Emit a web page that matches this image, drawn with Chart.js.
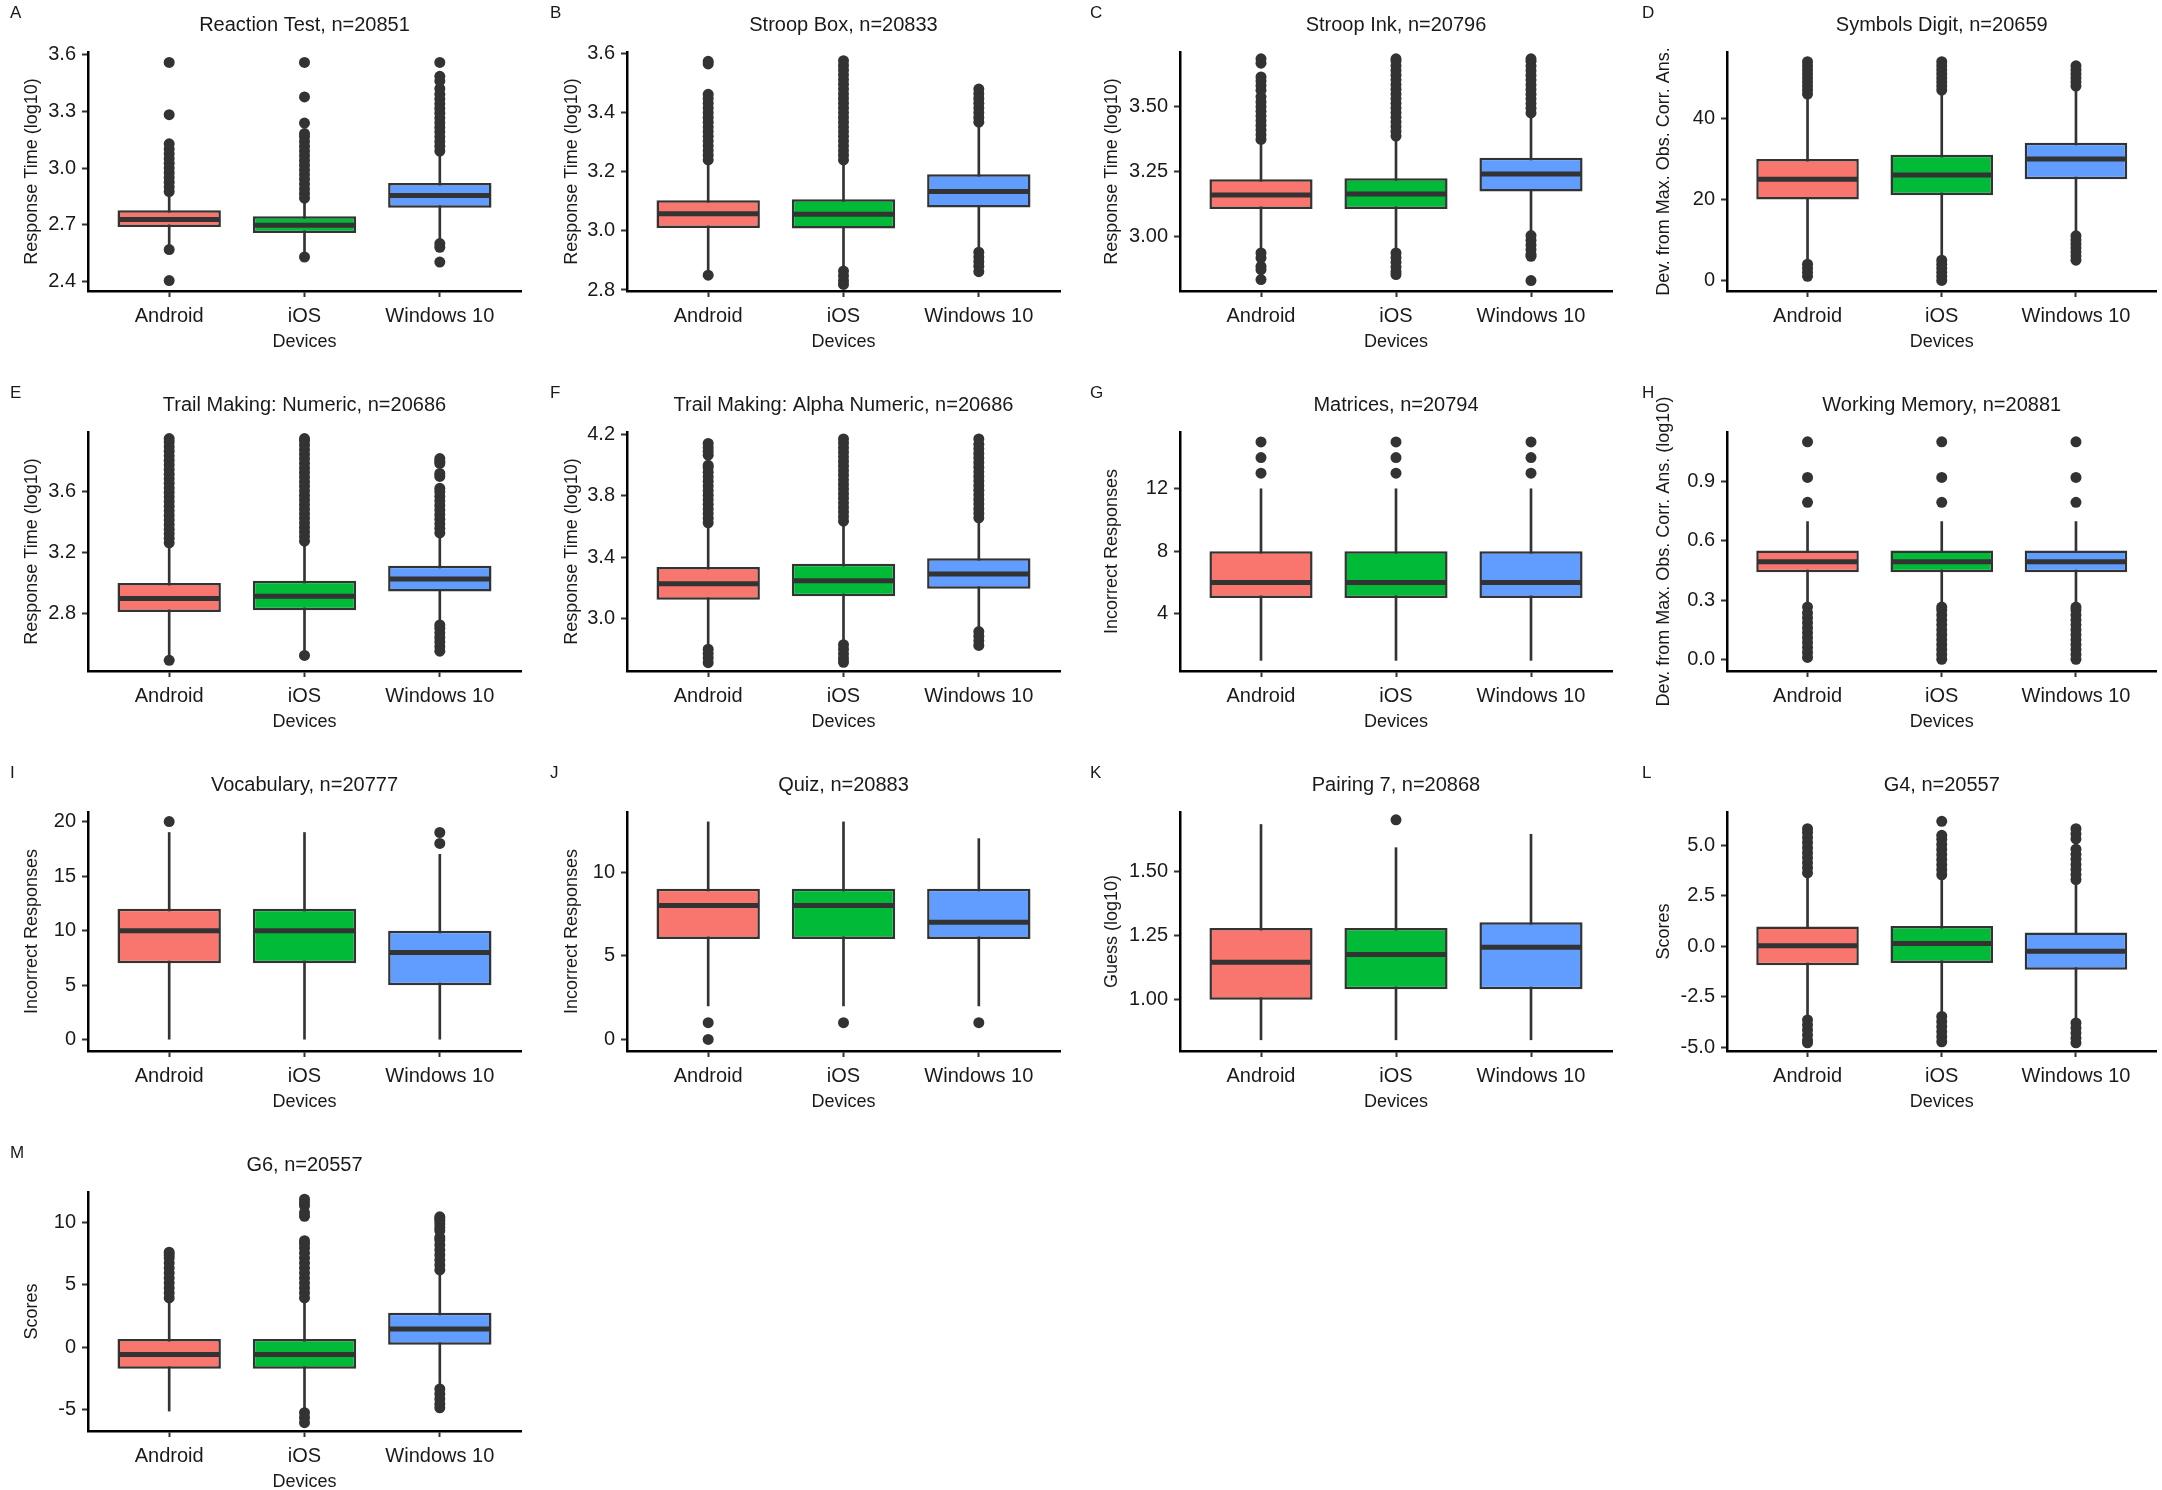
<!DOCTYPE html>
<html><head><meta charset="utf-8">
<script src="https://cdn.jsdelivr.net/npm/chart.js@4.4.1/dist/chart.umd.min.js"></script>
<style>
html,body{margin:0;padding:0;background:#fff;}
#wrap{position:relative;width:2162px;height:1490px;overflow:hidden;background:#fff;}
.panel{position:absolute;height:380px;}
.panel canvas{display:block;}
.tag{position:absolute;font:17px 'Liberation Sans',Arial,sans-serif;color:#1a1a1a;line-height:1;}
</style></head><body><div id="wrap"></div>
<script>
// ---------------- data ----------------
const devices = ['Android', 'iOS', 'Windows 10'];
const xTitle = 'Devices';
const panelLetters = ['A','B','C','D','E','F','G','H','I','J','K','L','M'];
const panelTitles = ['Reaction Test, n=20851','Stroop Box, n=20833','Stroop Ink, n=20796','Symbols Digit, n=20659',
  'Trail Making: Numeric, n=20686','Trail Making: Alpha Numeric, n=20686','Matrices, n=20794','Working Memory, n=20881',
  'Vocabulary, n=20777','Quiz, n=20883','Pairing 7, n=20868','G4, n=20557','G6, n=20557'];
const yTitles = ['Response Time (log10)','Response Time (log10)','Response Time (log10)','Dev. from Max. Obs. Corr. Ans.',
  'Response Time (log10)','Response Time (log10)','Incorrect Responses','Dev. from Max. Obs. Corr. Ans. (log10)',
  'Incorrect Responses','Incorrect Responses','Guess (log10)','Scores','Scores'];

// A Reaction Test
const A_yTicks = ['2.4','2.7','3.0','3.3','3.6'];
const A_yRange = [2.349, 3.614];
const A_low  = [2.590, 2.547, 2.617];
const A_q1   = [2.688, 2.656, 2.790];
const A_med  = [2.728, 2.697, 2.855];
const A_q3   = [2.776, 2.744, 2.921];
const A_high = [2.865, 2.830, 3.080];
const A_out  = [
  [2.404, 2.568, 2.875, 2.90, 2.925, 2.95, 2.975, 3.00, 3.025, 3.05, 3.075, 3.10, 3.128, 3.282, 3.559],
  [2.529, 2.84, 2.865, 2.89, 2.915, 2.94, 2.965, 2.99, 3.015, 3.04, 3.065, 3.09, 3.115, 3.14, 3.165, 3.182, 3.238, 3.376, 3.559],
  [2.502, 2.58, 2.60, 3.09, 3.115, 3.14, 3.165, 3.19, 3.215, 3.24, 3.265, 3.29, 3.315, 3.34, 3.365, 3.39, 3.42, 3.46, 3.485, 3.559]
];

// B Stroop Box
const B_yTicks = ['2.8','3.0','3.2','3.4','3.6'];
const B_yRange = [2.7966, 3.6054];
const B_low  = [2.862, 2.872, 2.935];
const B_q1   = [3.010, 3.008, 3.079];
const B_med  = [3.058, 3.056, 3.133];
const B_q3   = [3.104, 3.107, 3.192];
const B_high = [3.232, 3.232, 3.360];
const B_out  = [
  [2.850, 3.24, 3.256, 3.272, 3.288, 3.304, 3.32, 3.336, 3.352, 3.368, 3.384, 3.40, 3.416, 3.432, 3.448, 3.462, 3.565, 3.574],
  [2.819, 2.832, 2.848, 2.864, 3.24, 3.256, 3.272, 3.288, 3.304, 3.32, 3.336, 3.352, 3.368, 3.384, 3.40, 3.416, 3.432, 3.448, 3.464, 3.48, 3.496, 3.512, 3.528, 3.544, 3.56, 3.576],
  [2.862, 2.88, 2.896, 2.912, 2.928, 3.368, 3.384, 3.40, 3.416, 3.432, 3.448, 3.464, 3.48]
];

// C Stroop Ink
const C_yTicks = ['3.00','3.25','3.50'];
const C_yRange = [2.790, 3.708];
const C_low  = [2.945, 2.945, 3.008];
const C_q1   = [3.105, 3.105, 3.172];
const C_med  = [3.159, 3.163, 3.239];
const C_q3   = [3.219, 3.223, 3.302];
const C_high = [3.365, 3.378, 3.468];
const C_out  = [
  [2.834, 2.872, 2.885, 2.917, 2.936, 3.372, 3.39, 3.408, 3.426, 3.444, 3.462, 3.48, 3.498, 3.516, 3.536, 3.561, 3.579, 3.597, 3.612, 3.665, 3.682],
  [2.853, 2.864, 2.882, 2.90, 2.918, 2.936, 3.385, 3.403, 3.421, 3.439, 3.457, 3.475, 3.493, 3.511, 3.529, 3.547, 3.565, 3.583, 3.601, 3.619, 3.637, 3.655, 3.673, 3.682],
  [2.830, 2.923, 2.931, 2.949, 2.967, 2.985, 3.003, 3.474, 3.492, 3.51, 3.528, 3.546, 3.564, 3.582, 3.60, 3.618, 3.636, 3.654, 3.672, 3.682]
];

// D Symbols Digit
const D_yTicks = ['0','20','40'];
const D_yRange = [-2.62, 56.4];
const D_low  = [5, 6, 12];
const D_q1   = [20, 21, 25];
const D_med  = [25, 26, 30];
const D_q3   = [30, 31, 34];
const D_high = [45, 46, 47];
const D_out  = [
  [1, 2, 3, 4, 46, 47, 48, 49, 50, 51, 52, 53, 54],
  [0, 1, 2, 3, 4, 5, 47, 48, 49, 50, 51, 52, 53, 54],
  [5, 6, 7, 8, 9, 10, 11, 48, 49, 50, 51, 52, 53]
];

// E Trail Making: Numeric
const E_yTicks = ['2.8','3.2','3.6'];
const E_yRange = [2.426, 3.991];
const E_low  = [2.515, 2.548, 2.735];
const E_q1   = [2.813, 2.824, 2.946];
const E_med  = [2.900, 2.915, 3.028];
const E_q3   = [3.002, 3.017, 3.115];
const E_high = [3.255, 3.268, 3.322];
const E_out  = [
  [2.496, 3.265, 3.295, 3.325, 3.355, 3.385, 3.415, 3.445, 3.475, 3.505, 3.535, 3.565, 3.595, 3.625, 3.655, 3.685, 3.715, 3.745, 3.775, 3.805, 3.835, 3.865, 3.895, 3.925, 3.948],
  [2.528, 3.276, 3.306, 3.336, 3.366, 3.396, 3.426, 3.456, 3.486, 3.516, 3.546, 3.576, 3.606, 3.636, 3.666, 3.696, 3.726, 3.756, 3.786, 3.816, 3.846, 3.876, 3.906, 3.936, 3.948],
  [2.556, 2.586, 2.616, 2.646, 2.676, 2.706, 2.728, 3.33, 3.36, 3.39, 3.42, 3.45, 3.48, 3.51, 3.54, 3.57, 3.60, 3.622, 3.70, 3.72, 3.785, 3.80, 3.817]
];

// F Trail Making: Alpha Numeric
const F_yTicks = ['3.0','3.4','3.8','4.2'];
const F_yRange = [2.658, 4.217];
const F_low  = [2.822, 2.855, 2.925];
const F_q1   = [3.123, 3.145, 3.195];
const F_med  = [3.227, 3.247, 3.290];
const F_q3   = [3.336, 3.357, 3.394];
const F_high = [3.615, 3.625, 3.648];
const F_out  = [
  [2.712, 2.742, 2.772, 2.80, 3.625, 3.655, 3.685, 3.715, 3.745, 3.775, 3.805, 3.835, 3.865, 3.895, 3.925, 3.955, 3.985, 4.0, 4.066, 4.09, 4.115, 4.142],
  [2.715, 2.74, 2.77, 2.80, 2.83, 3.635, 3.665, 3.695, 3.725, 3.755, 3.785, 3.815, 3.845, 3.875, 3.905, 3.935, 3.965, 3.995, 4.025, 4.055, 4.085, 4.115, 4.145, 4.172],
  [2.825, 2.855, 2.885, 2.915, 3.657, 3.687, 3.717, 3.747, 3.777, 3.807, 3.837, 3.867, 3.897, 3.927, 3.957, 3.987, 4.017, 4.047, 4.077, 4.107, 4.137, 4.172]
];

// G Matrices
const G_yTicks = ['4','8','12'];
const G_yRange = [0.319, 15.64];
const G_low  = [1, 1, 1];
const G_q1   = [5, 5, 5];
const G_med  = [6, 6, 6];
const G_q3   = [8, 8, 8];
const G_high = [12, 12, 12];
const G_out  = [[13, 14, 15], [13, 14, 15], [13, 14, 15]];

// H Working Memory
const H_yTicks = ['0.0','0.3','0.6','0.9'];
const H_yRange = [-0.0589, 1.152];
const H_low  = [0.275, 0.275, 0.275];
const H_q1   = [0.442, 0.442, 0.442];
const H_med  = [0.495, 0.495, 0.495];
const H_q3   = [0.552, 0.552, 0.552];
const H_high = [0.698, 0.698, 0.698];
const H_out  = [
  [0.01, 0.035, 0.06, 0.085, 0.11, 0.135, 0.16, 0.185, 0.21, 0.235, 0.265, 0.796, 0.922, 1.102],
  [0.0, 0.025, 0.05, 0.075, 0.10, 0.125, 0.15, 0.175, 0.20, 0.225, 0.25, 0.265, 0.796, 0.922, 1.102],
  [0.0, 0.025, 0.05, 0.075, 0.10, 0.125, 0.15, 0.175, 0.20, 0.225, 0.25, 0.265, 0.796, 0.922, 1.102]
];

// I Vocabulary
const I_yTicks = ['0','5','10','15','20'];
const I_yRange = [-1.035, 20.88];
const I_low  = [0, 0, 0];
const I_q1   = [7, 7, 5];
const I_med  = [10, 10, 8];
const I_q3   = [12, 12, 10];
const I_high = [19, 19, 17];
const I_out  = [[20], [], [18, 19]];

// J Quiz
const J_yTicks = ['0','5','10'];
const J_yRange = [-0.694, 13.59];
const J_low  = [2, 2, 2];
const J_q1   = [6, 6, 6];
const J_med  = [8, 8, 7];
const J_q3   = [9, 9, 9];
const J_high = [13, 13, 12];
const J_out  = [[0, 1], [1], [1]];

// K Pairing 7
const K_yTicks = ['1.00','1.25','1.50'];
const K_yRange = [0.8015, 1.7294];
const K_low  = [0.845, 0.845, 0.845];
const K_q1   = [1.000, 1.041, 1.041];
const K_med  = [1.146, 1.176, 1.204];
const K_q3   = [1.279, 1.279, 1.301];
const K_high = [1.681, 1.591, 1.643];
const K_out  = [[], [1.699], []];

// L G4
const L_yTicks = ['-5.0','-2.5','0.0','2.5','5.0'];
const L_yRange = [-5.188, 6.633];
const L_low  = [-3.60, -3.42, -3.75];
const L_q1   = [-0.95, -0.84, -1.17];
const L_med  = [0.02, 0.13, -0.26];
const L_q3   = [0.97, 1.00, 0.67];
const L_high = [3.55, 3.47, 3.23];
const L_out  = [
  [-4.78, -4.65, -4.4, -4.15, -3.9, -3.65, 3.62, 3.87, 4.12, 4.37, 4.62, 4.87, 5.12, 5.37, 5.62, 5.81],
  [-4.73, -4.48, -4.23, -3.98, -3.73, -3.48, 3.53, 3.78, 4.03, 4.28, 4.53, 4.78, 5.03, 5.28, 5.48, 6.17],
  [-4.78, -4.55, -4.3, -4.05, -3.8, 3.29, 3.54, 3.79, 4.04, 4.29, 4.54, 4.79, 5.3, 5.55, 5.81]
];

// M G6
const M_yTicks = ['-5','0','5','10'];
const M_yRange = [-6.719, 12.45];
const M_low  = [-5.12, -5.15, -3.27];
const M_q1   = [-1.72, -1.72, 0.19];
const M_med  = [-0.58, -0.58, 1.46];
const M_q3   = [0.66, 0.66, 2.76];
const M_high = [3.85, 3.85, 6.10];
const M_out  = [
  [3.95, 4.35, 4.75, 5.15, 5.55, 5.95, 6.35, 6.75, 7.15, 7.4, 7.62],
  [-6.05, -5.65, -5.25, 3.95, 4.35, 4.75, 5.15, 5.55, 5.95, 6.35, 6.75, 7.15, 7.55, 7.95, 8.3, 8.55, 10.5, 10.8, 11.34, 11.6, 11.87],
  [-4.86, -4.55, -4.15, -3.75, -3.35, 6.2, 6.6, 7.0, 7.4, 7.8, 8.2, 8.6, 8.8, 9.35, 9.6, 9.88, 10.14, 10.3, 10.46]
];

// ---------------- layout (pixels) ----------------
const colLeft = [0, 540, 1080, 1632];
const colWidth = [540, 540, 552, 530];
const plotLeft = [88, 87, 100, 95];
const plotRight = [521, 520, 532, 528];
const rowTop = [0, 380, 760, 1140];
const PANEL_H = 380, PLOT_BOTTOM = 291;
const fills = ['#F8766D', '#00BA38', '#619CFF'];
const ink = '#333333';
const FONT = "'Liberation Sans', Arial, Helvetica, sans-serif";

const panelStats = [
  [A_yTicks, A_yRange, A_low, A_q1, A_med, A_q3, A_high, A_out],
  [B_yTicks, B_yRange, B_low, B_q1, B_med, B_q3, B_high, B_out],
  [C_yTicks, C_yRange, C_low, C_q1, C_med, C_q3, C_high, C_out],
  [D_yTicks, D_yRange, D_low, D_q1, D_med, D_q3, D_high, D_out],
  [E_yTicks, E_yRange, E_low, E_q1, E_med, E_q3, E_high, E_out],
  [F_yTicks, F_yRange, F_low, F_q1, F_med, F_q3, F_high, F_out],
  [G_yTicks, G_yRange, G_low, G_q1, G_med, G_q3, G_high, G_out],
  [H_yTicks, H_yRange, H_low, H_q1, H_med, H_q3, H_high, H_out],
  [I_yTicks, I_yRange, I_low, I_q1, I_med, I_q3, I_high, I_out],
  [J_yTicks, J_yRange, J_low, J_q1, J_med, J_q3, J_high, J_out],
  [K_yTicks, K_yRange, K_low, K_q1, K_med, K_q3, K_high, K_out],
  [L_yTicks, L_yRange, L_low, L_q1, L_med, L_q3, L_high, L_out],
  [M_yTicks, M_yRange, M_low, M_q1, M_med, M_q3, M_high, M_out]
];

Chart.defaults.font.family = FONT;
Chart.defaults.color = '#1a1a1a';
const wrap = document.getElementById('wrap');
const xs = devices.map((d, i) => i + 1);

panelStats.forEach((st, idx) => {
  const [yTicks, yRange, low, q1, med, q3, high, out] = st;
  const col = idx % 4, row = Math.floor(idx / 4);
  const div = document.createElement('div');
  div.className = 'panel';
  div.style.left = colLeft[col] + 'px';
  div.style.top = rowTop[row] + 'px';
  div.style.width = colWidth[col] + 'px';
  const cv = document.createElement('canvas');
  cv.width = colWidth[col]; cv.height = PANEL_H;
  div.appendChild(cv);
  wrap.appendChild(div);
  const tag = document.createElement('div');
  tag.className = 'tag';
  tag.textContent = panelLetters[idx];
  tag.style.left = (colLeft[col] + 10) + 'px';
  tag.style.top = (rowTop[row] + 4) + 'px';
  wrap.appendChild(tag);

  const halfBox = (ctx) => {
    const s = ctx.chart.scales.x;
    return Math.abs(s.getPixelForValue(1.375) - s.getPixelForValue(1));
  };

  new Chart(cv, {
    type: 'bar',
    data: {
      datasets: [
        { type: 'bar', label: 'whisker', data: xs.map((x, i) => ({ x, y: [low[i], high[i]] })),
          backgroundColor: ink, borderWidth: 0, barThickness: 2, grouped: false, order: 4 },
        { type: 'bar', label: 'box', data: xs.map((x, i) => ({ x, y: [q1[i], q3[i]] })),
          backgroundColor: fills, borderColor: ink, borderWidth: 2.5, borderSkipped: false,
          grouped: false, barPercentage: 0.764, categoryPercentage: 1, order: 3 },
        { type: 'scatter', label: 'median', data: xs.map((x, i) => ({ x, y: med[i] })),
          pointStyle: 'line', pointRadius: halfBox, pointBorderColor: ink, pointBorderWidth: 5,
          pointBackgroundColor: ink, order: 2 },
        { type: 'scatter', label: 'outliers', data: out.flatMap((arr, i) => arr.map(v => ({ x: i + 1, y: v }))),
          pointRadius: 5.5, pointBackgroundColor: ink, pointBorderColor: ink, pointBorderWidth: 0, order: 1 }
      ]
    },
    options: {
      responsive: false, animation: false, events: [],
      layout: { padding: { left: 0, right: colWidth[col] - plotRight[col], top: 0, bottom: 0 } },
      plugins: {
        legend: { display: false }, tooltip: { enabled: false },
        title: { display: true, text: panelTitles[idx], fullSize: false, color: '#1a1a1a',
          font: { family: FONT, size: 20, weight: 'normal' }, padding: { top: 13, bottom: 15 } }
      },
      scales: {
        x: {
          type: 'linear', min: 0.4, max: 3.6, offset: false,
          afterBuildTicks: (s) => { s.ticks = xs.map(v => ({ value: v })); },
          afterFit: (s) => { s.height = PANEL_H - PLOT_BOTTOM; },
          ticks: { callback: (v) => devices[v - 1] || '', font: { family: FONT, size: 20 }, color: '#1a1a1a',
            padding: 7, autoSkip: false, maxRotation: 0, minRotation: 0 },
          grid: { display: true, offset: false, drawOnChartArea: false, drawTicks: true, tickLength: 6, tickColor: ink, tickWidth: 2 },
          border: { display: true, color: '#000', width: 2.5 },
          title: { display: true, text: xTitle, color: '#1a1a1a', font: { family: FONT, size: 18 }, padding: { top: 0, bottom: 27 } }
        },
        y: {
          type: 'linear', min: yRange[0], max: yRange[1],
          afterBuildTicks: (s) => { s.ticks = yTicks.map(t => ({ value: Number(t) })); },
          afterFit: (s) => { s.width = plotLeft[col]; },
          ticks: { callback: (v, i) => yTicks[i], font: { family: FONT, size: 20 }, color: '#1a1a1a',
            padding: 6, autoSkip: false },
          grid: { display: true, drawOnChartArea: false, drawTicks: true, tickLength: 6, tickColor: ink, tickWidth: 2 },
          border: { display: true, color: '#000', width: 2.5 },
          title: { display: true, text: yTitles[idx], color: '#1a1a1a', font: { family: FONT, size: 18 }, padding: { top: 21, bottom: 0 } }
        }
      }
    }
  });
});
</script>
</body></html>
